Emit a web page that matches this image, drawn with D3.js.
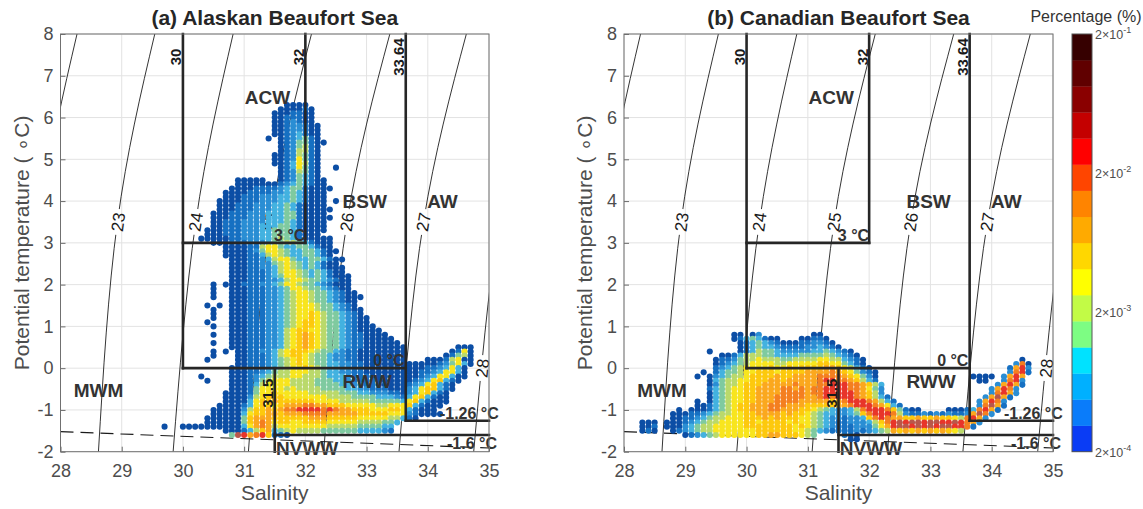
<!DOCTYPE html>
<html>
<head>
<meta charset="utf-8">
<title>T-S diagrams, Beaufort Sea</title>
<script src="https://cdn.jsdelivr.net/npm/d3@7/dist/d3.min.js"></script>
<style>
    body { margin: 0; background: #ffffff; }
    svg text { font-family: "Liberation Sans", Arial, Helvetica, sans-serif; }
</style>
</head>
<body>
<div id="chart"></div>
<script>
//axis ticks
var salTicks = [28, 29, 30, 31, 32, 33, 34, 35];
var tempTicks = [-2, -1, 0, 1, 2, 3, 4, 5, 6, 7, 8];

//dot colour levels, code "0" (lowest %) to "b" (highest %)
var levelCodes = "0123456789ab";
var dotColors = ["#0c4ea5", "#1670c2", "#2a8ed4", "#43b2e0", "#7fcaa0", "#bad96b",
    "#f8e51e", "#fdc90d", "#fba81e", "#f47f20", "#e8352a", "#b9574b"];

//colorbar, 16 bins from 2e-4 to 2e-1 %, bottom to top
var cbarColors = ["#0a3cf5", "#0a7cfa", "#00b0ff", "#00e2ff", "#7dfd83", "#c2fb46",
    "#ffff00", "#ffd700", "#ffaa00", "#ff8400", "#ff4500", "#ff0000",
    "#c40000", "#8a0000", "#600000", "#360000"];
var cbarTicks = [2e-4, 2e-3, 2e-2, 2e-1];
var cbarExps = ["-4", "-3", "-2", "-1"];

//isopycnals: salinity read at T = -2, 3.5 and 8 degC
var isoTemps = [-2, 3.5, 8];
var iso22 = [27.38, 27.67, 28.27];
var iso23 = [28.62, 28.93, 29.54];
var iso24 = [29.84, 30.21, 30.82];
var iso25 = [31.07, 31.43, 32.10];
var iso26 = [32.30, 32.68, 33.38];
var iso27 = [33.53, 33.93, 34.63];
var iso28 = [34.75, 35.16, 35.80];
var isoSal = [iso22, iso23, iso24, iso25, iso26, iso27, iso28];

//isopycnal labels
var isoLabels = ["23", "24", "25", "26", "27", "28"];
var isoLabelSal = [28.94, 30.21, 31.43, 32.68, 33.93, 34.89];
var isoLabelTemp = [3.5, 3.5, 3.5, 3.5, 3.5, 0.0];

//freezing line
var freezeSal = [28, 35];
var freezeTemp = [-1.52, -1.91];

//water mass boundaries [S1, T1, S2, T2]
var boxLines = [[30, 0, 30, 8], [32, 3, 32, 8], [30, 3, 32, 3], [30, 0, 33.64, 0],
    [33.64, -1.26, 33.64, 8], [33.64, -1.26, 35, -1.26], [31.5, -2, 31.5, 0], [31.5, -1.6, 35, -1.6]];

//water mass names
var regionNames = ["ACW", "BSW", "AW", "MWM", "RWW", "NVWW"];
var regionSal = [31.38, 32.97, 34.24, 28.62, 33.01, 32.03];
var regionTemp = [6.32, 3.83, 3.83, -0.68, -0.47, -2.08];

//salinity limits written along the lines
var limitText = ["30", "32", "33.64", "31.5"];
var limitSal = [30, 32, 33.64, 31.5];
var limitTemp = [7.45, 7.45, 7.45, -0.6];

//temperature limits
var tempText = ["3 \u00B0C", "0 \u00B0C", "-1.26 \u00B0C", "-1.6 \u00B0C"];
var tempLabelSal = [32, 33.62, 35.16, 35.13];
var tempLabelTemp = [3.04, 0.05, -1.22, -1.94];

//binned T-S percentages: [T, "S0:codes ..."], one code per 0.1 psu, "." = empty
var alaskaRows = [
    [6.3, "31.7:0000"],
    [6.2, "31.6:000010"],
    [6.1, "31.5:0001100"],
    [6.0, "31.5:0011100"],
    [5.9, "31.5:0012100"],
    [5.8, "31.5:00122100"],
    [5.7, "31.5:00122100"],
    [5.6, "31.5:00123100"],
    [5.5, "31.4:0 31.6:0123410"],
    [5.4, "31.6:01244100"],
    [5.3, "31.6:0124510"],
    [5.2, "31.6:0125510"],
    [5.1, "31.5:00125410"],
    [5.0, "31.5:00126410"],
    [4.9, "31.5:00136510"],
    [4.8, "31.6:0136410 32.5:0"],
    [4.7, "31.6:0125410"],
    [4.6, "31.6:0124310"],
    [4.5, "30.9:00000 31.6:01243100"],
    [4.4, "30.9:000000012343100"],
    [4.3, "30.8:0000111123441000 32.4:0"],
    [4.2, "30.7:00001111223431000"],
    [4.1, "30.7:00011122233431000"],
    [4.0, "30.6:000011122233431000 32.5:0"],
    [3.9, "30.6:000111222334310000"],
    [3.8, "30.6:0001112223343100000"],
    [3.7, "30.5:0001112223334410000"],
    [3.6, "30.5:00011122233344100000"],
    [3.5, "30.5:0011122223334310000"],
    [3.4, "30.5:0011122233344310000"],
    [3.3, "30.4:00011122233444310000"],
    [3.2, "30.4:0001112223344431000"],
    [3.1, "30.3:0000011222334543100000"],
    [3.0, "30.5:00011122234455431000"],
    [2.9, "30.7:000011566433443100"],
    [2.8, "30.7:0000124665433443100"],
    [2.7, "30.7:000011356543344310"],
    [2.6, "30.8:0001123566433443100"],
    [2.5, "30.8:000112245654343100"],
    [2.4, "30.8:0001122356543431000"],
    [2.3, "30.8:0001112356654343100"],
    [2.2, "30.8:00011123466543431000"],
    [2.1, "30.8:00011122356654432100"],
    [2.0, "30.5:0 30.7:000111223466544321000"],
    [1.9, "30.5:0 30.8:00011122346654432100"],
    [1.8, "30.5:0 30.8:000111223456654432100"],
    [1.7, "30.5:0 30.8:0001112234566544321000"],
    [1.6, "30.8:000111223456654432100"],
    [1.5, "30.4:0 30.6:0 30.8:000111223456665443210"],
    [1.4, "30.5:0 30.8:0001112234566654432100"],
    [1.3, "30.5:0 30.8:0001112234566765443210"],
    [1.2, "30.5:0 30.8:00011122345667654432100"],
    [1.1, "30.4:0 30.8:00011122345677654432100"],
    [1.0, "30.5:0 30.8:000111223456776544321000"],
    [0.9, "30.8:0001112235677665443210000"],
    [0.8, "30.5:0 30.8:00011122356787654432110000"],
    [0.7, "30.8:000111223567876544321100000"],
    [0.6, "30.5:0 30.8:0001112235678765443211000000"],
    [0.5, "30.8:00011122356787654432110000000 34.5:000"],
    [0.4, "30.5:0 30.7:0 30.9:0011223567776544321100000000 34.4:0160"],
    [0.3, "30.5:0 30.9:0011123567765443221100000000 34.3:01450"],
    [0.2, "30.4:0 30.9:0011123456765443221100000000 34.0:00015600"],
    [0.1, "30.9:0011123456765443322110000000 33.7:00000124630"],
    [0.0, "30.8:00011123456676543322110000000 33.7:0001123630"],
    [-0.1, "30.8:00011234556665543322110000000 33.7:0011236630"],
    [-0.2, "30.3:0 30.8:00012345556655543332111000000 33.7:0012366300"],
    [-0.3, "30.4:0 30.8:00012456665555444332111100000 33.7:012367310"],
    [-0.4, "30.8:00013566665555444433221100000 33.7:12367310"],
    [-0.5, "30.8:00014666656555544443322111000 33.7:23677310"],
    [-0.6, "30.7:000014667666665555544433222110 33.7:2367310"],
    [-0.7, "30.7:000025677766666665555444433321 33.7:3673100"],
    [-0.8, "30.7:000036778777777666655555444443 33.7:6731000"],
    [-0.9, "30.6:0000 31.0:1367 31.4:7678 31.8:88998 32.3:877 32.6:76666 33.1:655 33.4:666 33.7:731000"],
    [-1.0, "30.5:00000 31.0:2577 31.4:8789 31.8:9aaaa 32.3:9a9 32.6:88777 33.1:666 33.4:776 33.7:31000"],
    [-1.1, "30.5:00000 31.0:3677 31.4:8878 31.8:88999 32.3:988 32.6:88877 33.1:777 33.4:666 33.7:210000"],
    [-1.2, "30.4:000000 31.0:4788 31.4:8777 31.8:77788 32.3:877 32.6:77766 33.1:666 33.4:553 33.7:10"],
    [-1.3, "30.4:000000 31.0:4789 31.4:8677 31.8:66777 32.3:766 32.6:66655 33.1:554 33.4:43"],
    [-1.4, "29.7:0 30.0:0000000000 31.0:3689 31.4:8566 31.8:66666 32.3:655 32.6:55544 33.1:443 33.4:3"],
    [-1.5, "30.7:0001 31.1:3578 31.5:3456 31.9:55554 32.4:444 32.7:4433 33.1:3321"],
    [-1.6, "30.8:4ba89a7110"]
];

var canadaRows = [
    [0.8, "29.8:00 30.1:02 31.1:00"],
    [0.7, "29.8:01 30.0:343100 30.9:00110"],
    [0.6, "29.9:0 30.0:1343210001 31.0:12210"],
    [0.5, "29.9:0 30.0:1343321111 31.0:223210"],
    [0.4, "29.4:0 29.9:0 30.0:1354432222 31.0:23343210"],
    [0.3, "29.6:0013 30.0:5554433334 31.0:444543210"],
    [0.2, "29.5:01124 30.0:5565554455 31.0:5566553210 34.5:0"],
    [0.1, "29.5:01234 30.0:5666655666 31.0:6677664310 34.4:290"],
    [0.0, "29.5:12345 30.0:6666766767 31.0:7778876531 32.0:0 34.3:18a2"],
    [-0.1, "29.3:0 29.5:13445 30.0:6677767777 31.0:8888987642 32.0:10 34.3:29a1"],
    [-0.2, "29.2:0 29.4:023455 30.0:6777787788 31.0:8899998764 32.0:20 33.7:0000 34.2:28a8"],
    [-0.3, "29.4:034556 30.0:6777887888 31.0:889aa99875 32.0:31 33.8:00 34.2:29a2"],
    [-0.4, "29.4:024556 30.0:7778888898 31.0:8899aaa998 32.0:753 34.1:28a81"],
    [-0.5, "29.4:134566 30.0:7788889989 31.0:899aaaa998 32.0:642 34.0:28a92"],
    [-0.6, "29.4:034566 30.0:7788889999 31.0:899aaaaa98 32.0:752 34.0:29a82"],
    [-0.7, "29.4:034566 30.0:7788899999 31.0:889a9aaa98 32.0:7531 33.9:28b81"],
    [-0.8, "29.2:0 29.4:034566 30.0:7788899998 31.0:8888789aaa 32.0:98531 33.8:28a92"],
    [-0.9, "29.2:00134567 30.0:7888999888 31.0:77777889aa 32.0:a98631 33.8:29b81"],
    [-1.0, "28.9:0 29.1:000134567 30.0:7888998887 31.0:7654322359 32.0:aaa974100 33.3:0001 33.7:39a81"],
    [-1.1, "28.8:00 29.0:0112345566 30.0:7788887877 31.0:6543322347 32.0:9aaa95 32.6:2112121 33.3:211 33.6:28b92"],
    [-1.2, "28.8:00 29.0:1123455666 30.0:7778787776 31.0:6543221223 32.0:79a9887787 33.0:787765 33.6:9a82"],
    [-1.3, "28.3:000 28.7:000 29.0:1234556666 30.0:7767777676 31.0:6543211222 32.0:3579ababba 33.0:bbaaba9 33.7:82"],
    [-1.4, "28.3:001 28.7:000 29.0:2345566666 30.0:7777777767 31.0:6543211122 32.0:2468abbaba 33.0:babbaa9 33.7:1"],
    [-1.5, "28.3:010 28.8:01 29.0:2345566666 30.0:6677777766 31.0:5432111121 32.0:2345878787 33.0:878765"],
    [-1.6, "29.0:0123456666 30.0:6677887776 31.0:54 31.6:110"],
    [-1.7, "31.7:00"]
];

//layout
var width = 1143, height = 509;
var plotTop = 34, plotBottom = 451.7;
var panels = [
    {id: "a", left: 60.5, right: 489, title: "(a) Alaskan Beaufort Sea", rows: alaskaRows},
    {id: "b", left: 624, right: 1053, title: "(b) Canadian Beaufort Sea", rows: canadaRows}
];
var cbarLeft = 1072, cbarWidth = 20;
var textColor = "#4d4d4d", labelColor = "#333333", lineColor = "#262626";

var svg = d3.select("#chart").append("svg")
    .attr("width", width).attr("height", height);

panels.forEach(function(p){ drawPanel(p); });
drawColorbar();

//turns the row strings into one point per filled 0.1 x 0.1 bin
function expandRows(rows){
    var pts = [];
    rows.forEach(function(r){
        r[1].split(" ").forEach(function(seg){
            var parts = seg.split(":");
            var s0 = Math.round(parseFloat(parts[0]) * 10);
            for (var i = 0; i < parts[1].length; i++){
                var lev = levelCodes.indexOf(parts[1].charAt(i));
                if (lev < 0) continue;
                pts.push({s: (s0 + i) / 10, t: r[0], lev: lev});
            }
        });
    });
    return pts;
}

function drawPanel(p){
    var x = d3.scaleLinear().domain([28, 35]).range([p.left, p.right]);
    var y = d3.scaleLinear().domain([-2, 8]).range([plotBottom, plotTop]);
    var plotH = plotBottom - plotTop, plotW = p.right - p.left;

    //clip to the axes box
    svg.append("clipPath").attr("id", "clip-" + p.id)
        .append("rect").attr("x", p.left).attr("y", plotTop)
        .attr("width", plotW).attr("height", plotH);

    //grid
    var grid = svg.append("g");
    grid.selectAll("line.gx").data(salTicks).enter().append("line")
        .attr("x1", function(d){ return x(d); }).attr("x2", function(d){ return x(d); })
        .attr("y1", plotTop).attr("y2", plotBottom);
    grid.selectAll("line.gy").data(tempTicks).enter().append("line")
        .attr("y1", function(d){ return y(d); }).attr("y2", function(d){ return y(d); })
        .attr("x1", p.left).attr("x2", p.right);
    grid.selectAll("line").attr("stroke", "#e3e3e3").attr("stroke-width", 1);

    //contour label positions and angles
    var labels = isoLabels.map(function(txt, i){
        var pts = isoSal[i + 1];
        var i1 = isoLabelTemp[i] < 1 ? 1 : 2;
        var ang = Math.atan2(y(isoTemps[i1]) - y(isoTemps[0]), x(pts[i1]) - x(pts[0])) * 180 / Math.PI;
        return {txt: txt, px: x(isoLabelSal[i]), py: y(isoLabelTemp[i]), ang: ang};
    });

    //mask cutting the contour lines under their labels
    var mask = svg.append("mask").attr("id", "mask-" + p.id)
        .attr("maskUnits", "userSpaceOnUse")
        .attr("x", 0).attr("y", 0).attr("width", width).attr("height", height);
    mask.append("rect").attr("x", 0).attr("y", 0).attr("width", width).attr("height", height)
        .attr("fill", "#fff");
    mask.selectAll("rect.cut").data(labels).enter().append("rect")
        .attr("x", -13).attr("y", -7).attr("width", 26).attr("height", 14)
        .attr("fill", "#000")
        .attr("transform", function(d){ return "translate(" + d.px + "," + d.py + ") rotate(" + d.ang + ")"; });

    //isopycnals
    var line = d3.line()
        .x(function(d){ return x(d[0]); })
        .y(function(d){ return y(d[1]); })
        .curve(d3.curveNatural);
    var cont = svg.append("g").attr("clip-path", "url(#clip-" + p.id + ")")
        .append("g").attr("mask", "url(#mask-" + p.id + ")");
    isoSal.forEach(function(sal){
        var pts = sal.map(function(s, j){ return [s, isoTemps[j]]; });
        cont.append("path").attr("d", line(pts))
            .attr("fill", "none").attr("stroke", "#000").attr("stroke-width", 0.8);
    });
    svg.append("g").selectAll("text").data(labels).enter().append("text")
        .attr("transform", function(d){ return "translate(" + d.px + "," + d.py + ") rotate(" + d.ang + ")"; })
        .attr("text-anchor", "middle").attr("dy", "0.35em")
        .attr("font-size", 17).attr("fill", "#1a1a1a")
        .text(function(d){ return d.txt; });

    //freezing line
    svg.append("line")
        .attr("x1", x(freezeSal[0])).attr("y1", y(freezeTemp[0]))
        .attr("x2", x(freezeSal[1])).attr("y2", y(freezeTemp[1]))
        .attr("stroke", "#1a1a1a").attr("stroke-width", 1.1)
        .attr("stroke-dasharray", "13,7");

    //binned dots
    var pts = expandRows(p.rows);
    svg.append("g").selectAll("circle")
        .data(pts)
        .enter().append("circle")
        .attr("cx", function(d){ return x(d.s); })
        .attr("cy", function(d){ return y(d.t); })
        .attr("r", 3.05)
        .attr("fill", function(d){ return dotColors[d.lev]; });

    //water mass boxes
    svg.append("g").selectAll("line")
        .data(boxLines)
        .enter().append("line")
        .attr("x1", function(d){ return x(d[0]); }).attr("y1", function(d){ return y(d[1]); })
        .attr("x2", function(d){ return x(d[2]); }).attr("y2", function(d){ return y(d[3]); })
        .attr("stroke", lineColor).attr("stroke-width", 2.6).attr("stroke-linecap", "square");

    //water mass names
    svg.append("g").selectAll("text")
        .data(regionNames)
        .enter().append("text")
        .attr("x", function(d, i){ return x(regionSal[i]); })
        .attr("y", function(d, i){ return y(regionTemp[i]); })
        .attr("text-anchor", "middle").attr("font-size", 19).attr("font-weight", "bold")
        .attr("fill", labelColor)
        .text(function(d){ return d; });

    //salinity limits, rotated
    svg.append("g").selectAll("text")
        .data(limitText)
        .enter().append("text")
        .attr("transform", function(d, i){
            return "translate(" + (x(limitSal[i]) - 1.5) + "," + y(limitTemp[i]) + ") rotate(-90)";
        })
        .attr("text-anchor", "middle").attr("font-size", 15).attr("font-weight", "bold")
        .attr("fill", "#1a1a1a")
        .text(function(d){ return d; });

    //temperature limits
    svg.append("g").selectAll("text")
        .data(tempText)
        .enter().append("text")
        .attr("x", function(d, i){ return x(tempLabelSal[i]); })
        .attr("y", function(d, i){ return y(tempLabelTemp[i]); })
        .attr("text-anchor", "end").attr("font-size", 16).attr("font-weight", "bold")
        .attr("fill", labelColor)
        .text(function(d){ return d; });

    //axes, plain integer labels with a hyphen minus
    var plain = function(d){ return String(d); };
    var xAxis = svg.append("g")
        .attr("transform", "translate(0," + plotBottom + ")")
        .call(d3.axisBottom(x).tickValues(salTicks).tickFormat(plain).tickSize(-5).tickPadding(12.5));
    var yAxis = svg.append("g")
        .attr("transform", "translate(" + p.left + ",0)")
        .call(d3.axisLeft(y).tickValues(tempTicks).tickFormat(plain).tickSize(-5).tickPadding(7));
    [xAxis, yAxis].forEach(function(a){
        a.attr("font-family", null).attr("font-size", 18);
        a.select(".domain").remove();
        a.selectAll("line").attr("stroke", "#6b6b6b");
        a.selectAll("text").attr("fill", textColor);
    });

    //box frame
    svg.append("rect")
        .attr("x", p.left).attr("y", plotTop).attr("width", plotW).attr("height", plotH)
        .attr("fill", "none").attr("stroke", "#707070").attr("stroke-width", 1);

    //titles and axis labels
    svg.append("text")
        .attr("x", (p.left + p.right) / 2).attr("y", 25)
        .attr("text-anchor", "middle").attr("font-size", 21).attr("font-weight", "bold")
        .attr("fill", "#262626")
        .text(p.title);
    svg.append("text")
        .attr("x", (p.left + p.right) / 2).attr("y", 500)
        .attr("text-anchor", "middle").attr("font-size", 21)
        .attr("fill", textColor)
        .text("Salinity");
    svg.append("text")
        .attr("transform", "translate(" + (p.left - 32) + "," + ((plotTop + plotBottom) / 2) + ") rotate(-90)")
        .attr("text-anchor", "middle").attr("font-size", 21)
        .attr("fill", textColor)
        .text("Potential temperature ( \u2218C)");
}

function drawColorbar(){
    var bins = d3.scaleLinear().domain([0, cbarColors.length]).range([plotBottom, plotTop]);
    var cy = d3.scaleLog().domain([cbarTicks[0], cbarTicks[cbarTicks.length - 1]]).range([plotBottom, plotTop]);
    var g = svg.append("g");
    g.selectAll("rect")
        .data(cbarColors)
        .enter().append("rect")
        .attr("x", cbarLeft).attr("width", cbarWidth)
        .attr("y", function(d, i){ return bins(i + 1); })
        .attr("height", function(d, i){ return bins(i) - bins(i + 1) + 0.3; })
        .attr("fill", function(d){ return d; });
    g.append("rect")
        .attr("x", cbarLeft).attr("y", plotTop).attr("width", cbarWidth).attr("height", plotBottom - plotTop)
        .attr("fill", "none").attr("stroke", "#555").attr("stroke-width", 1);

    var lab = g.selectAll("text.tick")
        .data(cbarTicks)
        .enter().append("text")
        .attr("x", cbarLeft + cbarWidth + 3)
        .attr("y", function(d){ return cy(d) + 5; })
        .attr("font-size", 12.5).attr("fill", textColor);
    lab.append("tspan").text("2\u00D710");
    lab.append("tspan").attr("dy", -6).attr("font-size", 9)
        .text(function(d, i){ return cbarExps[i]; });

    svg.append("text")
        .attr("x", 1086).attr("y", 22)
        .attr("text-anchor", "middle").attr("font-size", 16)
        .attr("fill", "#333")
        .text("Percentage (%)");
}
</script>
</body>
</html>
